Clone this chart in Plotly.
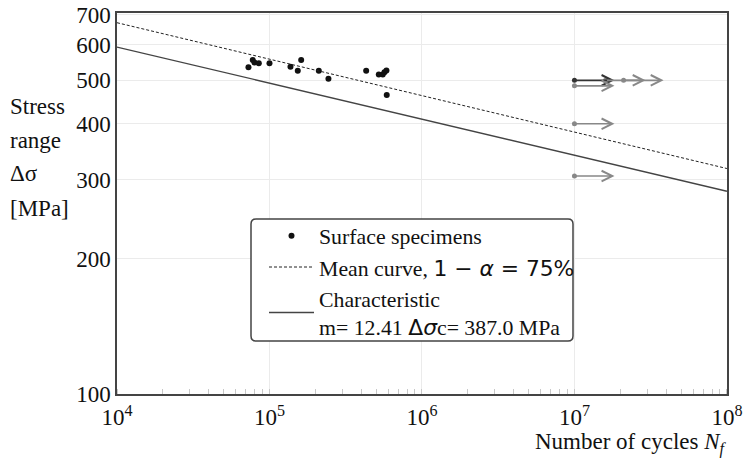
import math
import plotly.graph_objects as go

# ---- data ----
N_spec = [72800, 77700, 79700, 85100, 100000, 137300, 153300, 161400,
          210600, 243600, 430600, 521000, 553400, 567600, 584800, 587500]
S_spec = [535, 555, 548, 546, 546, 536, 525, 555,
          525, 504, 525, 515, 515, 521, 526, 464]

N_curve = [1e4, 1e8]
S_mean = [672, 318]
S_char = [593, 283]

runout_N = [1e7, 1e7, 1e7, 1e7, 1.6e7, 2.1e7]
runout_S = [500, 486, 400, 306, 500, 500]
runout_dark = [True, False, False, False, False, False]

x_ticks = [1e4, 1e5, 1e6, 1e7, 1e8]
x_ticktext = ["10<sup>4</sup>", "10<sup>5</sup>", "10<sup>6</sup>", "10<sup>7</sup>", "10<sup>8</sup>"]
y_ticks = [100, 200, 300, 400, 500, 600, 700]

y_title_lines = ["Stress", "range", "Δσ", "[MPa]"]

SERIF = "Liberation Serif"
SANS = "DejaVu Sans"

fig = go.Figure()

fig.add_trace(go.Scatter(
    x=N_spec, y=S_spec, mode="markers", name="Surface specimens",
    marker=dict(color="#111", size=6)))
fig.add_trace(go.Scatter(
    x=N_curve, y=S_mean, mode="lines",
    name=f"Mean curve, <span style=\"font-family:{SANS}\">1 − <i>α</i> = 75%</span>",
    line=dict(color="#222", width=1, dash="3px,2px")))
fig.add_trace(go.Scatter(
    x=N_curve, y=S_char, mode="lines",
    name=f"Characteristic<br>m= 12.41 <span style=\"font-family:{SANS}\">Δ<i>σ</i></span>c= 387.0 MPa",
    line=dict(color="#444", width=1.3)))

# runout dots + arrows
arrow_factor = 1.83
for n, s, dark in zip(runout_N, runout_S, runout_dark):
    col = "#333" if dark else "#888"
    fig.add_trace(go.Scatter(x=[n], y=[s], mode="markers", showlegend=False,
                             marker=dict(color=col, size=5)))
    fig.add_annotation(x=math.log10(n * arrow_factor), y=math.log10(s),
                       ax=math.log10(n), ay=math.log10(s), axref="x", ayref="y",
                       xref="x", yref="y", text="", showarrow=True,
                       arrowhead=5, arrowsize=1.3, arrowwidth=1.6, arrowcolor=col)

# plot geometry
L, R, T, B = 117, 20, 13, 66
W, H = 747, 460
pw, ph = W - L - R, H - T - B

def px(x):
    return (x - L) / pw

def py(y):
    return (H - B - y) / ph

# rounded legend box
x0, x1, y0, y1 = px(251), px(573), py(341), py(219)
rx, ry = 5 / pw, 5 / ph
path = (f"M{x0+rx},{y0} L{x1-rx},{y0} Q{x1},{y0} {x1},{y0+ry} "
        f"L{x1},{y1-ry} Q{x1},{y1} {x1-rx},{y1} L{x0+rx},{y1} Q{x0},{y1} {x0},{y1-ry} "
        f"L{x0},{y0+ry} Q{x0},{y0} {x0+rx},{y0} Z")
fig.add_shape(type="path", path=path, xref="paper", yref="paper",
              line=dict(color="#444", width=1.5), fillcolor="white", layer="above")

# y axis title, one annotation per line
for i, line in enumerate(y_title_lines):
    fig.add_annotation(x=px(8), y=py(106 + 34 * i), xref="paper", yref="paper",
                       xanchor="left", yanchor="middle", showarrow=False, text=line,
                       font=dict(family=SERIF, size=23, color="#111"))
fig.add_annotation(x=px(729), y=py(427), xref="paper", yref="paper", xanchor="right", yanchor="top",
                   showarrow=False,
                   text="Number of cycles <i>N</i><sub><i>f</i></sub>",
                   font=dict(family=SERIF, size=23, color="#111"))

fig.update_layout(
    width=W, height=H,
    margin=dict(l=L, r=R, t=T, b=B, autoexpand=False),
    plot_bgcolor="white", paper_bgcolor="white",
    font=dict(family=SERIF, size=21, color="#111"),
    legend=dict(x=px(264), y=py(215), xanchor="left", yanchor="top",
                bgcolor="rgba(0,0,0,0)", borderwidth=0, itemwidth=45,
                font=dict(family=SERIF, size=21.8, color="#111")),
    showlegend=True,
)
fig.update_xaxes(type="log", range=[4, 8.0005], tickvals=x_ticks, ticktext=x_ticktext,
                 automargin=False, ticklabelstandoff=2,
                 showgrid=True, gridcolor="#ebebeb", gridwidth=1,
                 showline=True, linecolor="#444", linewidth=1.5, mirror=True,
                 ticks="", zeroline=False,
                 minor=dict(ticks="inside", ticklen=5, tickcolor="#c8c8c8", dtick="D1", showgrid=False),
                 tickfont=dict(family=SERIF, size=23, color="#111"))
fig.update_yaxes(type="log", range=[2, 2.849], tickvals=y_ticks, ticktext=[str(v) for v in y_ticks],
                 automargin=False,
                 showgrid=True, gridcolor="#ebebeb", gridwidth=1,
                 showline=True, linecolor="#444", linewidth=1.5, mirror=True,
                 ticks="", zeroline=False,
                 tickfont=dict(family=SERIF, size=23, color="#111"))

fig.write_html("out.html")
